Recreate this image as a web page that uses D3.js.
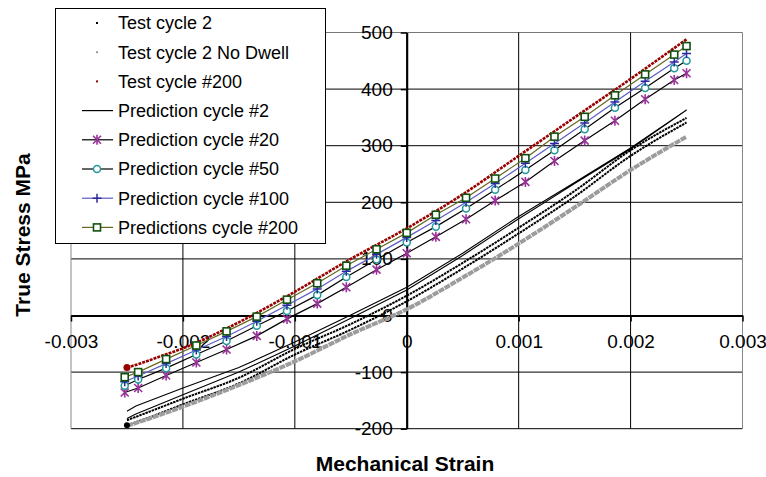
<!DOCTYPE html>
<html>
<head>
<meta charset="utf-8">
<script src="https://cdn.jsdelivr.net/npm/d3@7/dist/d3.min.js"></script>
<style>
  body { margin: 0; background: #fff; }
  text { font-family: "Liberation Sans", Arial, sans-serif; }
</style>
</head>
<body>
<div id="chart"></div>
<script>
/* global d3 */

// test data (dense dotted traces)
const testStrain = [-0.0025, -0.0023, -0.002, -0.0015, -0.001, -0.0005, 0, 0.0005, 0.001, 0.0015, 0.002, 0.0025];
const test2Upper = [-185, -170, -147, -110, -59, -15, 35, 93, 155, 220, 292, 349];
const test2Lower = [-194, -180, -157, -120, -69, -25, 25, 83, 145, 210, 282, 341];
const test2NoDwell = [-195, -182, -161, -123, -81, -33, 11, 67, 127, 191, 257, 316];

const test200Strain = [-0.0025, -0.0024, -0.0022, -0.002, -0.0015, -0.001, -0.0005, 0, 0.0005, 0.001, 0.0015, 0.002, 0.0025];
const test200 = [-92, -86, -72, -58, -12, 42, 100, 154, 214, 282, 350, 418, 488];

// prediction cycle #2 (thin loop, no markers)
const pred2Strain = [-0.0025, -0.00242, -0.002, -0.0015, -0.001, -0.0005, 0, 0.0005, 0.001, 0.0015, 0.002, 0.0025];
const pred2Upper = [-169, -160, -128, -92, -47, 1, 50, 110, 175, 235, 296, 363];
const pred2Lower = [-182, -174, -140, -100, -54, -5, 45, 106, 171, 233, 294, 363];

// predictions with markers
const predStrain = [-0.00252, -0.0024, -0.00215, -0.00188, -0.00161, -0.00134, -0.00107, -0.0008, -0.00054,
  -0.00027, 0, 0.00026, 0.00053, 0.00079, 0.00106, 0.00132, 0.00159, 0.00186, 0.00213, 0.00239, 0.0025];
const pred20 = [-136, -128, -106, -83, -60, -36, -6, 21, 50, 81, 110, 139, 170, 203, 236, 273, 309, 344, 382, 416, 428];
const pred50 = [-124, -113, -93, -69, -45, -18, 8, 36, 68, 99, 129, 157, 189, 222, 257, 292, 329, 367, 402, 437, 450];
const pred100 = [-117, -107, -85, -61, -37, -10, 18, 47, 78, 108, 138, 168, 200, 233, 269, 304, 340, 377, 414, 448, 463];
const pred200 = [-109, -100, -77, -53, -28, -2, 28, 57, 88, 117, 146, 178, 208, 242, 278, 316, 351, 389, 426, 461, 476];

const xTicks = [-0.003, -0.002, -0.001, 0, 0.001, 0.002, 0.003];
const yTicks = [-200, -100, 0, 100, 200, 300, 400, 500];

const legendNames = ['Test cycle 2', 'Test cycle 2 No Dwell', 'Test cycle #200', 'Prediction cycle #2',
  'Prediction cycle #20', 'Prediction cycle #50', 'Prediction cycle #100', 'Predictions cycle #200'];

const width = 766;
const height = 477;

const x = d3.scaleLinear().domain([-0.003, 0.003]).range([71, 742.5]);
const y = d3.scaleLinear().domain([-200, 500]).range([428.7, 32.5]);

const svg = d3.select('#chart')
  .append('svg')
  .attr('width', width)
  .attr('height', height);

// grid
svg.append('g')
  .selectAll('line')
  .data(yTicks)
  .enter()
  .append('line')
  .attr('x1', x(-0.003))
  .attr('x2', x(0.003))
  .attr('y1', (d) => y(d))
  .attr('y2', (d) => y(d))
  .attr('stroke', (d) => (d === 500 ? '#777' : '#000'))
  .attr('stroke-width', 1);

svg.append('g')
  .selectAll('line')
  .data(xTicks)
  .enter()
  .append('line')
  .attr('x1', (d) => x(d))
  .attr('x2', (d) => x(d))
  .attr('y1', y(-200))
  .attr('y2', y(500))
  .attr('stroke', (d) => (Math.abs(d) === 0.003 ? '#888' : '#000'))
  .attr('stroke-width', 1);

// axes crossing at zero
const xAxis = svg.append('g')
  .attr('transform', `translate(0,${y(0)})`)
  .call(d3.axisBottom(x).tickValues(xTicks).tickSize(6).tickSizeOuter(0)
    .tickPadding(13)
    .tickFormat((d) => (d === 0 ? '0' : String(d))));
xAxis.select('.domain').attr('stroke-width', 2).attr('stroke', '#000');
xAxis.selectAll('.tick line').attr('stroke-width', 1.5);
xAxis.selectAll('text').style('font-size', '19px').attr('fill', '#000');

const yAxis = svg.append('g')
  .attr('transform', `translate(${x(0)},0)`)
  .call(d3.axisLeft(y).tickValues(yTicks).tickSize(6).tickSizeOuter(0)
    .tickPadding(8)
    .tickFormat((d) => String(d)));
yAxis.select('.domain').attr('stroke-width', 2).attr('stroke', '#000');
yAxis.selectAll('.tick line').attr('stroke-width', 1.5);
yAxis.selectAll('text').style('font-size', '19px').attr('fill', '#000');

// series
const curve = d3.line()
  .x((d) => x(d[0]))
  .y((d) => y(d[1]))
  .curve(d3.curveMonotoneX);
const straight = d3.line()
  .x((d) => x(d[0]))
  .y((d) => y(d[1]));

const zip = (xs, ys) => xs.map((v, i) => [v, ys[i]]);

const dotted = (data, color, w, dash) => {
  svg.append('path')
    .attr('d', curve(data))
    .attr('fill', 'none')
    .attr('stroke', color)
    .attr('stroke-width', w)
    .attr('stroke-dasharray', dash);
};

dotted(zip(testStrain, test2Upper), '#000', 2, '2.5,0.8');
dotted(zip(testStrain, test2Lower), '#000', 2, '2.5,0.8');
dotted(zip(testStrain, test2NoDwell), '#9c9c9c', 4, '6,0.8');
dotted(zip(test200Strain, test200), '#990000', 2.6, '3,1');

svg.append('circle')
  .attr('cx', x(test200Strain[0]))
  .attr('cy', y(test200[0]))
  .attr('r', 3.5)
  .attr('fill', '#990000');
svg.append('circle')
  .attr('cx', x(testStrain[0]))
  .attr('cy', y(test2Lower[0]))
  .attr('r', 3)
  .attr('fill', '#000');

// prediction #2 loop
const loop = zip(pred2Strain, pred2Lower).concat(zip(pred2Strain, pred2Upper).reverse());
svg.append('path')
  .attr('d', straight(loop))
  .attr('fill', 'none')
  .attr('stroke', '#000')
  .attr('stroke-width', 1.1);

const drawMarker = (g, type, color) => {
  if (type === 'star') {
    g.append('path')
      .attr('d', 'M-4,-4L4,4M-4,4L4,-4M0,-5V5')
      .attr('stroke', color)
      .attr('stroke-width', 1.6)
      .attr('fill', 'none');
  } else if (type === 'circle') {
    g.append('circle')
      .attr('r', 3.5)
      .attr('fill', '#fff')
      .attr('stroke', color)
      .attr('stroke-width', 1.5);
  } else if (type === 'plus') {
    g.append('path')
      .attr('d', 'M-4.5,0H4.5M0,-4.5V4.5')
      .attr('stroke', color)
      .attr('stroke-width', 1.5);
  } else if (type === 'square') {
    g.append('rect')
      .attr('x', -3.5)
      .attr('y', -3.5)
      .attr('width', 7)
      .attr('height', 7)
      .attr('fill', '#fff')
      .attr('stroke', color)
      .attr('stroke-width', 1.6);
  }
};

const predSeries = [
  { values: pred20, line: '#000', marker: 'star', color: '#993399' },
  { values: pred50, line: '#000', marker: 'circle', color: '#1f9a9a' },
  { values: pred100, line: '#5c5cc4', marker: 'plus', color: '#2b2ba0' },
  { values: pred200, line: '#666622', marker: 'square', color: '#0f520f' },
];

predSeries.forEach((s) => {
  const data = zip(predStrain, s.values);
  svg.append('path')
    .attr('d', straight(data))
    .attr('fill', 'none')
    .attr('stroke', s.line)
    .attr('stroke-width', 1.2);
  svg.append('g')
    .selectAll('g')
    .data(data)
    .enter()
    .append('g')
    .attr('transform', (d) => `translate(${x(d[0])},${y(d[1])})`)
    .each(function addMarker() { drawMarker(d3.select(this), s.marker, s.color); });
});

// axis titles
svg.append('text')
  .attr('x', 405)
  .attr('y', 471)
  .attr('text-anchor', 'middle')
  .style('font-size', '21px')
  .style('font-weight', 'bold')
  .text('Mechanical Strain');

svg.append('text')
  .attr('transform', 'translate(30,235) rotate(-90)')
  .attr('text-anchor', 'middle')
  .style('font-size', '21px')
  .style('font-weight', 'bold')
  .text('True Stress MPa');

// legend
const legend = svg.append('g');
legend.append('rect')
  .attr('x', 55.5)
  .attr('y', 8.5)
  .attr('width', 270)
  .attr('height', 235)
  .attr('fill', '#fff')
  .attr('stroke', '#000')
  .attr('stroke-width', 1);

const legendKeys = [
  { kind: 'dot', color: '#000' },
  { kind: 'dot', color: '#9a9a9a' },
  { kind: 'dot', color: '#990000' },
  { kind: 'line', line: '#000' },
  { kind: 'line', line: '#000', marker: 'star', color: '#993399' },
  { kind: 'line', line: '#000', marker: 'circle', color: '#1f9a9a' },
  { kind: 'line', line: '#5c5cc4', marker: 'plus', color: '#2b2ba0' },
  { kind: 'line', line: '#666622', marker: 'square', color: '#0f520f' },
];

legendNames.forEach((name, i) => {
  const cy = 23 + i * 29.2;
  const key = legendKeys[i];
  const row = legend.append('g').attr('transform', `translate(97,${cy})`);
  if (key.kind === 'dot') {
    row.append('rect')
      .attr('x', -1)
      .attr('y', -1)
      .attr('width', 2)
      .attr('height', 2)
      .attr('fill', key.color);
  } else {
    row.append('line')
      .attr('x1', -15)
      .attr('x2', 16)
      .attr('stroke', key.line)
      .attr('stroke-width', 1.2);
    if (key.marker) drawMarker(row, key.marker, key.color);
  }
  legend.append('text')
    .attr('x', 118)
    .attr('y', cy)
    .attr('dy', '0.35em')
    .style('font-size', '18px')
    .text(name);
});
</script>
</body>
</html>
